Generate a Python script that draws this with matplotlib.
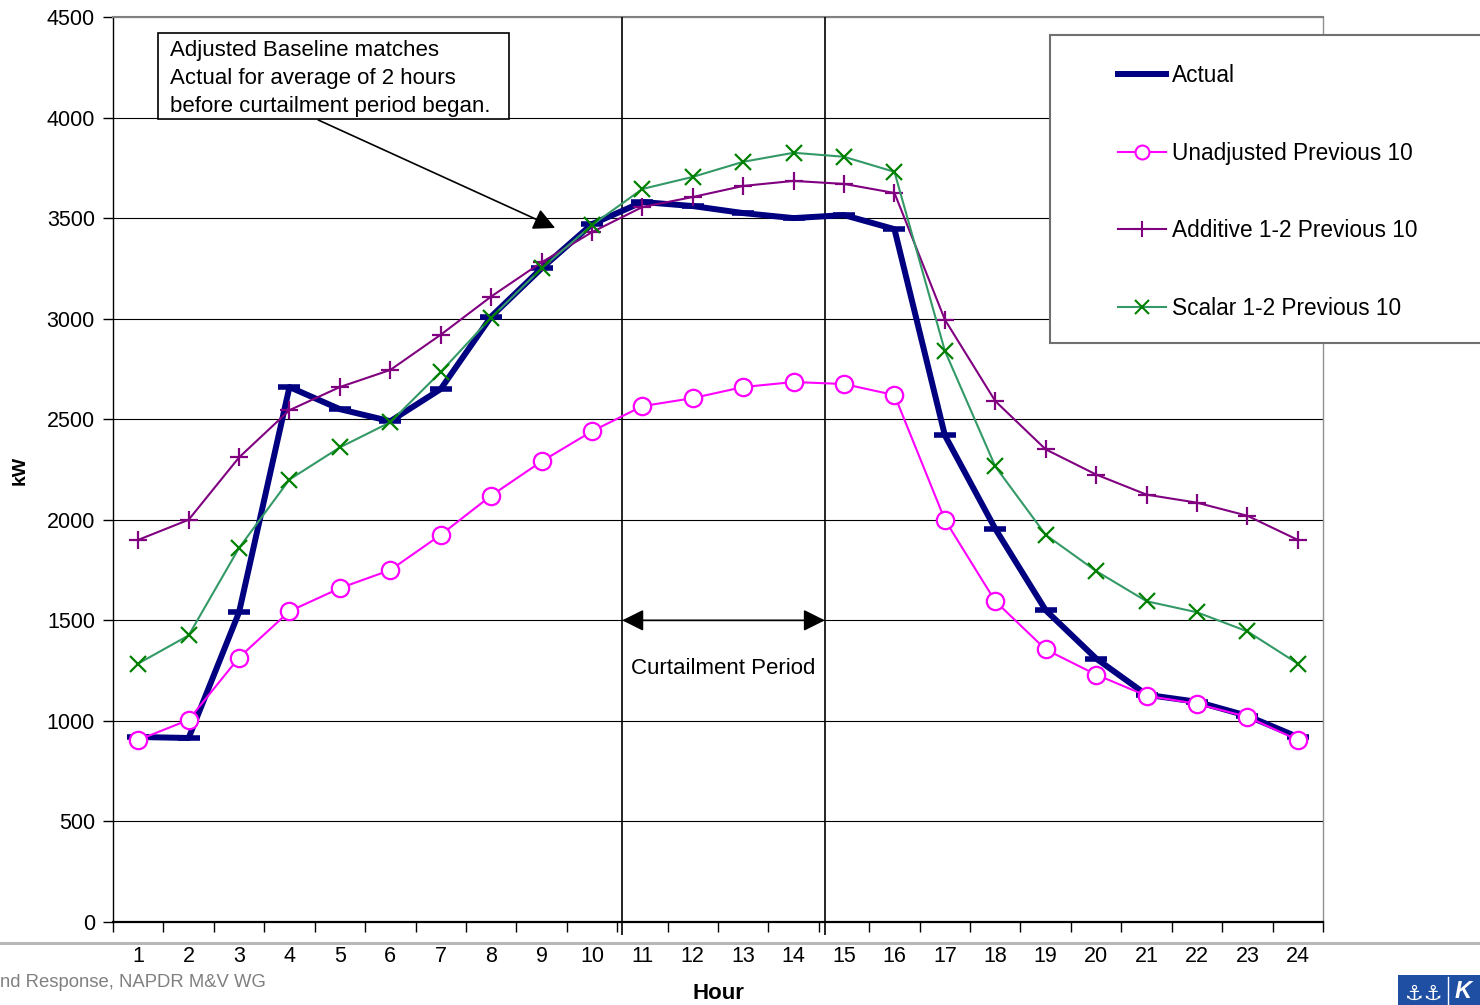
import matplotlib
matplotlib.use("Agg")
import numpy as np
import matplotlib.pyplot as plt
from matplotlib.patches import Rectangle
from matplotlib.lines import Line2D

plt.rcParams['font.family'] = ['Liberation Sans', 'DejaVu Sans']

# data (kW per hour)
hours = list(range(1, 25))
actual = [920, 915, 1540, 2660, 2550, 2490, 2650, 3010, 3250, 3470, 3580, 3560,
          3525, 3500, 3515, 3445, 2420, 1955, 1550, 1310, 1130, 1095, 1025, 920]
unadjusted = [905, 1005, 1315, 1545, 1660, 1750, 1925, 2120, 2290, 2440, 2565, 2605,
              2660, 2685, 2675, 2620, 2000, 1595, 1355, 1230, 1125, 1085, 1020, 905]
additive = [1900, 2000, 2310, 2545, 2660, 2745, 2920, 3110, 3280, 3430, 3555, 3605,
            3660, 3685, 3670, 3625, 2995, 2590, 2350, 2225, 2125, 2085, 2020, 1900]
scalar = [1285, 1425, 1860, 2200, 2360, 2485, 2735, 3005, 3250, 3465, 3645, 3705,
          3780, 3825, 3805, 3730, 2840, 2265, 1925, 1745, 1595, 1540, 1445, 1285]
series_names = ["Actual", "Unadjusted Previous 10",
                "Additive 1-2 Previous 10", "Scalar 1-2 Previous 10"]
y_ticks = list(range(0, 4501, 500))
curtail_start, curtail_end = 10.6, 14.62

W, H = 1480, 1005
fig = plt.figure(figsize=(W / 100, H / 100), dpi=100)
ax = fig.add_axes([113 / W, 1 - 922 / H, 1210 / W, 905 / H])

# series
ax.plot(hours, actual, color='#000080', lw=4.3, marker='_', ms=16, mew=4,
        label=series_names[0], zorder=4)
ax.plot(hours, unadjusted, color='#FF00FF', lw=1.5, marker='o', ms=12.5,
        mfc='white', mec='#FF00FF', mew=1.6, label=series_names[1], zorder=5)
ax.plot(hours, additive, color='#800080', lw=1.5, marker='+', ms=13,
        mew=1.6, label=series_names[2], zorder=5)
ax.plot(hours, scalar, color='#339966', lw=1.5, marker='x', ms=12,
        mec='#008000', mew=1.6, label=series_names[3], zorder=5)

ax.set_xlim(0.5, 24.5)
ax.set_ylim(0, 4500)
ax.set_xticks(hours)
ax.set_xticks(np.arange(0.5, 25, 1), minor=True)
ax.set_yticks(y_ticks)
ax.tick_params(axis='x', which='major', length=0, pad=17, labelsize=15.5)
ax.tick_params(axis='x', which='minor', length=7, width=1, direction='out')
ax.tick_params(axis='y', length=7, width=1, direction='out', labelsize=15.5, pad=6)
ax.yaxis.grid(True, color='black', lw=0.8)
ax.set_axisbelow(True)
for side in ['left', 'bottom']:
    ax.spines[side].set_color('black')
ax.spines['bottom'].set_linewidth(1.6)
ax.spines['left'].set_linewidth(1.0)
ax.spines['top'].set_color('#808080')
ax.spines['top'].set_linewidth(1.5)
ax.spines['right'].set_color('#909090')
ax.spines['right'].set_linewidth(1.0)

# curtailment period markers
ax.vlines([curtail_start, curtail_end], -65, 4500, color='black', lw=1.2,
          clip_on=False, zorder=3)
ax.annotate('', xy=(curtail_end, 1500), xytext=(curtail_start, 1500),
            arrowprops=dict(arrowstyle='<|-|>,head_length=0.6,head_width=0.3',
                            color='black', lw=1.2, mutation_scale=22,
                            shrinkA=0, shrinkB=0), zorder=6)
ax.text(12.6, 1262, 'Curtailment Period', ha='center', va='center', fontsize=16)

# note box with arrow
ax.add_patch(Rectangle((1.39, 3993), 8.35 - 1.39, 4420 - 3993, facecolor='white',
                       edgecolor='black', lw=1.2, zorder=6))
ax.text(1.63, 4193, 'Adjusted Baseline matches\nActual for average of 2 hours\n'
        'before curtailment period began.', ha='left', va='center', fontsize=16,
        linespacing=1.43, zorder=7)
ax.annotate('', xy=(9.27, 3451), xytext=(4.57, 3988),
            arrowprops=dict(arrowstyle='-|>,head_length=0.6,head_width=0.3',
                            color='black', lw=1.2, mutation_scale=22,
                            shrinkA=0, shrinkB=0), zorder=6)

# legend box runs off the right edge like the original slide
fig.patches.append(Rectangle((1050 / W, 1 - 343 / H), 0.3, 308 / H,
                             transform=fig.transFigure, facecolor='white',
                             edgecolor='#707070', lw=1.5, zorder=2))
handles = [
    Line2D([], [], color='#000080', lw=4.3),
    Line2D([], [], color='#FF00FF', lw=1.5, marker='o', ms=10, mfc='white', mew=1.5),
    Line2D([], [], color='#800080', lw=1.5, marker='+', ms=11, mew=1.5),
    Line2D([], [], color='#339966', lw=1.5, marker='x', ms=10, mec='#008000', mew=1.5),
]
leg = fig.legend(handles, series_names, loc='upper left',
                 bbox_to_anchor=(1118 / W, 1 - 64 / H), bbox_transform=fig.transFigure,
                 frameon=False, fontsize=16.3, handlelength=2.12, handletextpad=0.27,
                 labelspacing=2.41, borderpad=0, borderaxespad=0)
leg.set_zorder(5)

# axis titles
fig.text(20 / W, 1 - 470 / H, 'kW', rotation=90, ha='center', va='center',
         fontsize=14, fontweight='bold')
fig.text(718 / W, 1 - 993 / H, 'Hour', ha='center', va='center',
         fontsize=16, fontweight='bold')

# slide footer
fig.add_artist(Line2D([0, 1], [1 - 943 / H, 1 - 943 / H], transform=fig.transFigure,
                      color='#B8B8B8', lw=2.2, zorder=0))
fig.text(0, 1 - 982 / H, 'nd Response, NAPDR M&V WG', ha='left',
         va='center', fontsize=13.3, color='#808080')
fig.patches.append(Rectangle((1398 / W, 0), 90 / W, 30 / H, transform=fig.transFigure,
                             facecolor='#1F4FA3', edgecolor='none', zorder=2))
fig.add_artist(Line2D([1448 / W, 1448 / W], [0, 28 / H], transform=fig.transFigure,
                      color='white', lw=1, zorder=3))
fig.text(1405 / W, 1 / H, '⚓⚓', fontsize=15, color='white', zorder=3,
         ha='left', va='bottom')
fig.text(1455 / W, 2 / H, 'K', fontsize=17, color='white', fontweight='bold',
         fontstyle='italic', zorder=3, ha='left', va='bottom')

fig.savefig('out.png', dpi=100)
